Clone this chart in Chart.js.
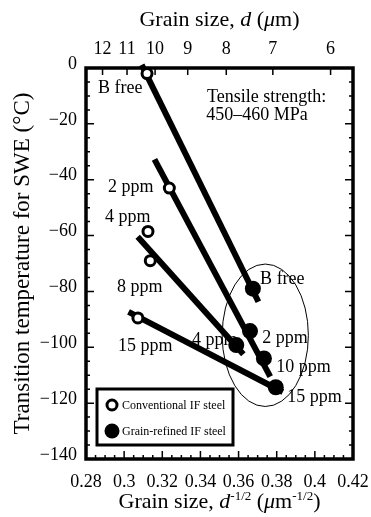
<!DOCTYPE html>
<html>
<head>
<meta charset="utf-8">
<script src="https://cdn.jsdelivr.net/npm/chart.js@4.4.1/dist/chart.umd.min.js"></script>
<style>
  html, body { margin: 0; padding: 0; background: #fff; }
  canvas { display: block; }
</style>
</head>
<body>
<canvas id="swe" width="371" height="517"></canvas>
<script>
// ---- data ----
const convLabels = ['B free', '2 ppm', '4 ppm', '8 ppm', '15 ppm'];
const convX = [0.3120, 0.3237, 0.3125, 0.3137, 0.3072];   // d^-1/2 (um^-1/2)
const convY = [-2, -43, -58.5, -69, -89.5];                // deg C

const refLabels = ['B free', '2 ppm', '4 ppm', '10 ppm', '15 ppm'];
const refX = [0.3675, 0.3660, 0.3588, 0.3733, 0.3795];
const refY = [-79, -94.2, -99.2, -104, -114.3];

// fitted lines, [start, end] as [x, y]
const fitBFree = [[0.3092, 1.1], [0.3704, -83.7]];
const fit2ppm  = [[0.3159, -32.7], [0.3766, -110.5]];
const fit4ppm  = [[0.3071, -60.4], [0.3625, -102.5]];
const fit15ppm = [[0.3023, -87.3], [0.3832, -116.0]];

const topTickD = [12, 11, 10, 9, 8, 7, 6];   // grain size d (um) on top axis

const FONT = '"Liberation Serif", "Times New Roman", serif';

// text notes (x, y in data units, text starts at x)
const notes = [
  ['B free', 0.2863, -7.2],
  ['Tensile strength:', 0.3435, -10.4],
  ['450\u2013460 MPa', 0.3430, -16.8],
  ['2 ppm', 0.2915, -42.6],
  ['4 ppm', 0.2900, -53.3],
  ['8 ppm', 0.2963, -78.4],
  ['15 ppm', 0.2968, -99.5],
  ['B free', 0.3713, -75.5],
  ['2 ppm', 0.3724, -96.7],
  ['4 ppm', 0.3356, -97.4],
  ['10 ppm', 0.3797, -107],
  ['15 ppm', 0.3855, -117.8]
];

// ellipse around the grain-refined points
const ellipseC = [0.374, -95.7];
const ellipseR = [0.0226, 25.5];

const toPts = (xs, ys) => xs.map((v, i) => ({ x: v, y: ys[i] }));
const fitDs = (pts) => ({
  type: 'line',
  data: pts.map(p => ({ x: p[0], y: p[1] })),
  borderColor: '#000',
  borderWidth: 6,
  pointRadius: 0,
  clip: false,
  order: 2
});

// draws text made of runs: plain, italic, superscript
function drawRuns(ctx, runs, cx, cy, size) {
  const fontFor = r => (r.it ? 'italic ' : '') + (r.sup ? Math.round(size * 0.6) : size) + 'px ' + FONT;
  let w = 0;
  runs.forEach(r => { ctx.font = fontFor(r); w += ctx.measureText(r.t).width; });
  let x = cx - w / 2;
  ctx.textAlign = 'left';
  ctx.textBaseline = 'alphabetic';
  runs.forEach(r => {
    ctx.font = fontFor(r);
    ctx.fillText(r.t, x, cy + (r.sup ? -size * 0.38 : 0));
    x += ctx.measureText(r.t).width;
  });
}

const overlay = {
  id: 'overlay',
  beforeDatasetsDraw(chart) {
    const { ctx, scales: { x, y } } = chart;
    ctx.save();
    // ellipse
    const ex = x.getPixelForValue(ellipseC[0]);
    const ey = y.getPixelForValue(ellipseC[1]);
    const rx = x.getPixelForValue(ellipseC[0] + ellipseR[0]) - ex;
    const ry = ey - y.getPixelForValue(ellipseC[1] + ellipseR[1]);
    ctx.beginPath();
    ctx.ellipse(ex, ey, rx, ry, 0, 0, Math.PI * 2);
    ctx.lineWidth = 1;
    ctx.strokeStyle = '#000';
    ctx.stroke();
    // notes
    ctx.fillStyle = '#000';
    ctx.font = '18px ' + FONT;
    ctx.textAlign = 'left';
    ctx.textBaseline = 'middle';
    notes.forEach(n => ctx.fillText(n[0], x.getPixelForValue(n[1]), y.getPixelForValue(n[2])));
    ctx.restore();
  },
  afterDraw(chart) {
    const { ctx, chartArea: a, scales: { x, y } } = chart;
    ctx.save();
    ctx.strokeStyle = '#000';
    ctx.fillStyle = '#000';

    // tick marks, pointing inward
    ctx.lineWidth = 1.5;
    ctx.beginPath();
    for (let v = -140; v <= 0; v += 5) {
      const py = y.getPixelForValue(v);
      const len = v % 20 === 0 ? 8 : 4;
      ctx.moveTo(a.left, py); ctx.lineTo(a.left + len, py);
      ctx.moveTo(a.right, py); ctx.lineTo(a.right - len, py);
    }
    for (let k = 0; k <= 28; k++) {
      const px = x.getPixelForValue(0.28 + k * 0.005);
      const len = k % 4 === 0 ? 8 : 4;
      ctx.moveTo(px, a.bottom); ctx.lineTo(px, a.bottom - len);
    }
    topTickD.forEach(d => {
      const px = x.getPixelForValue(1 / Math.sqrt(d));
      ctx.moveTo(px, a.top); ctx.lineTo(px, a.top + 7);
    });
    ctx.stroke();

    // frame
    ctx.lineWidth = 3.5;
    ctx.strokeRect(a.left, a.top, a.right - a.left, a.bottom - a.top);

    // axis titles with italics / superscripts
    const cx = (a.left + a.right) / 2;
    drawRuns(ctx, [
      { t: 'Grain size, ' }, { t: 'd', it: true }, { t: ' (' }, { t: '\u03bc', it: true }, { t: 'm)' }
    ], cx, 26, 22);
    drawRuns(ctx, [
      { t: 'Grain size, ' }, { t: 'd', it: true }, { t: '-1/2', sup: true }, { t: ' (' },
      { t: '\u03bc', it: true }, { t: 'm' }, { t: '-1/2', sup: true }, { t: ')' }
    ], cx, 508, 22);

    // legend box
    const bx = a.left + 11, bw = 136, bh = 56, by = a.bottom - 14 - bh;
    ctx.fillStyle = '#fff';
    ctx.fillRect(bx, by, bw, bh);
    ctx.lineWidth = 3;
    ctx.strokeRect(bx, by, bw, bh);
    const conv = chart.data.datasets[0], ref = chart.data.datasets[1];
    ctx.beginPath();
    ctx.arc(bx + 15, by + 16, 5, 0, Math.PI * 2);
    ctx.fillStyle = '#fff'; ctx.fill();
    ctx.lineWidth = 3; ctx.stroke();
    ctx.beginPath();
    ctx.arc(bx + 15, by + 42, 7.5, 0, Math.PI * 2);
    ctx.fillStyle = '#000'; ctx.fill();
    ctx.font = '12px ' + FONT;
    ctx.textAlign = 'left';
    ctx.textBaseline = 'middle';
    ctx.fillText(conv.label, bx + 25, by + 17);
    ctx.fillText(ref.label, bx + 25, by + 43);
    ctx.restore();
  }
};

new Chart(document.getElementById('swe'), {
  data: {
    datasets: [
      {
        type: 'scatter',
        label: 'Conventional IF steel',
        data: toPts(convX, convY),
        backgroundColor: '#fff',
        borderColor: '#000',
        borderWidth: 3,
        pointRadius: 5,
        order: 0
      },
      {
        type: 'scatter',
        label: 'Grain-refined IF steel',
        data: toPts(refX, refY),
        backgroundColor: '#000',
        borderColor: '#000',
        borderWidth: 0,
        pointRadius: 8,
        order: 0
      },
      fitDs(fitBFree),
      fitDs(fit2ppm),
      fitDs(fit4ppm),
      fitDs(fit15ppm)
    ]
  },
  options: {
    responsive: false,
    animation: false,
    layout: { padding: { right: 18 } },
    plugins: { legend: { display: false }, tooltip: { enabled: false } },
    scales: {
      x: {
        type: 'linear',
        position: 'bottom',
        min: 0.28,
        max: 0.42,
        grid: { display: false, drawTicks: false },
        border: { display: false },
        ticks: {
          stepSize: 0.02,
          padding: 12,
          maxRotation: 0,
          minRotation: 0,
          autoSkip: false,
          color: '#000',
          font: { family: FONT, size: 18 },
          callback: v => String(Number(v.toFixed(2)))
        },
        afterFit: s => { s.height = 58; s.paddingLeft = 0; s.paddingRight = 0; }
      },
      xTop: {
        type: 'linear',
        position: 'top',
        min: 0.28,
        max: 0.42,
        grid: { display: false, drawTicks: false },
        border: { display: false },
        afterBuildTicks: s => { s.ticks = topTickD.map(d => ({ value: 1 / Math.sqrt(d) })); },
        ticks: {
          padding: 8,
          maxRotation: 0,
          minRotation: 0,
          autoSkip: false,
          color: '#000',
          font: { family: FONT, size: 18 },
          callback: v => String(Math.round(1 / (v * v)))
        },
        afterFit: s => { s.height = 68; s.paddingLeft = 0; s.paddingRight = 0; }
      },
      y: {
        type: 'linear',
        min: -140,
        max: 0,
        grid: { display: false, drawTicks: false },
        border: { display: false },
        ticks: {
          stepSize: 20,
          padding: 9,
          labelOffset: -4,
          color: '#000',
          font: { family: FONT, size: 18 },
          callback: v => (v < 0 ? '\u2212' + Math.abs(v) : String(v))
        },
        title: {
          display: true,
          text: 'Transition temperature for SWE (\u00b0C)',
          color: '#000',
          font: { family: FONT, size: 23, weight: 'normal' },
          padding: { top: 9, bottom: 0 }
        },
        afterFit: s => { s.width = 86; s.paddingTop = 0; s.paddingBottom = 0; }
      }
    }
  },
  plugins: [overlay]
});
</script>
</body>
</html>
